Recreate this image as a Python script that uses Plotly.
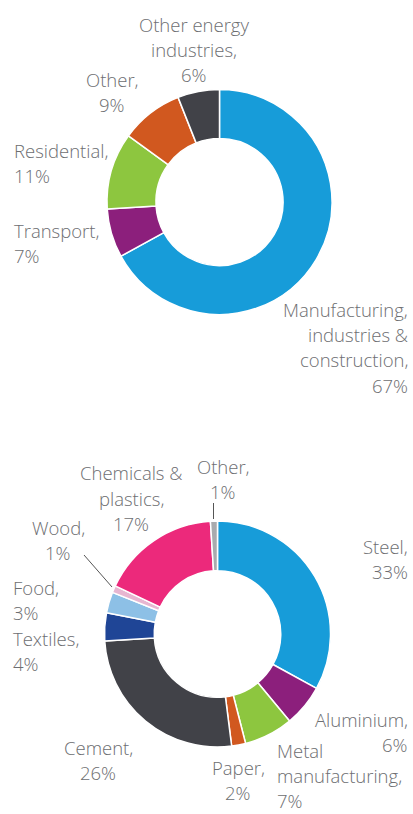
import plotly.graph_objects as go

# Emissions by sector (top ring)
sector_labels = ["Manufacturing,<br>industries &<br>construction", "Transport", "Residential",
                 "Other", "Other energy<br>industries"]
sector_values = [67, 7, 11, 9, 6]
sector_colors = ["#179cd9", "#8c1f7c", "#8dc63f", "#d1581f", "#414248"]

# Breakdown of manufacturing, industries & construction (bottom ring)
industry_labels = ["Steel", "Aluminium", "Metal<br>manufacturing", "Paper", "Cement",
                   "Textiles", "Food", "Wood", "Chemicals &<br>plastics", "Other"]
industry_values = [33, 6, 7, 2, 26, 4, 3, 1, 17, 1]
industry_colors = ["#179cd9", "#8c1f7c", "#8dc63f", "#d1581f", "#414248",
                   "#1f4596", "#8dc0e6", "#e7b6d1", "#ec297b", "#a9abae"]

W, H = 413, 814
TEXT = "#6d6e71"
FONT = "Open Sans"
FS = 18.5


def dom(cx, cy, r):
    return dict(x=[(cx - r) / W, (cx + r) / W], y=[1 - (cy + r) / H, 1 - (cy - r) / H])


fig = go.Figure()
fig.add_trace(go.Pie(
    labels=[l.replace("<br>", " ") for l in sector_labels], values=sector_values,
    marker=dict(colors=sector_colors, line=dict(color="white", width=1.5)),
    hole=0.565, sort=False, direction="clockwise", rotation=0,
    textinfo="none", domain=dom(219.5, 202, 112.5), showlegend=False,
))
fig.add_trace(go.Pie(
    labels=[l.replace("<br>", " ") for l in industry_labels], values=industry_values,
    marker=dict(colors=industry_colors, line=dict(color="white", width=1.5)),
    hole=0.56, sort=False, direction="clockwise", rotation=0,
    textinfo="none", domain=dom(217.5, 634, 113), showlegend=False,
))

# label placement: (x, y of first line, xanchor)
sector_pos = [(410, 309, "right"), (12, 230, "left"), (12, 150, "left"),
              (112, 79, "center"), (194, 24, "center")]
industry_pos = [(410, 546, "right"), (410, 719, "right"), (275, 750, "left"),
                (238, 767, "center"), (98, 747, "center"), (11, 638, "left"),
                (11, 587, "left"), (58, 527, "center"), (131, 473, "center"),
                (223, 466, "center")]

LINE = 25.4
annotations = []


def add_labels(labels, values, positions):
    for lab, val, (x, y, anchor) in zip(labels, values, positions):
        lines = (lab + ",").split("<br>") + [f"{val}%"]
        for i, line in enumerate(lines):
            annotations.append(dict(
                x=x / W, y=1 - (y + i * LINE) / H, xref="paper", yref="paper",
                text=line, showarrow=False, xanchor=anchor, yanchor="middle",
                font=dict(family=FONT, size=FS, color=TEXT, weight=300),
            ))


add_labels(sector_labels, sector_values, sector_pos)
add_labels(industry_labels, industry_values, industry_pos)

# leader lines for the two thinnest slices
shapes = [
    dict(type="line", xref="paper", yref="paper", x0=213.5 / W, x1=213.5 / W,
         y0=1 - 503 / H, y1=1 - 519 / H, line=dict(color="#555", width=1)),
    dict(type="line", xref="paper", yref="paper", x0=84 / W, x1=112 / W,
         y0=1 - 555 / H, y1=1 - 587 / H, line=dict(color="#555", width=1)),
]

fig.update_layout(
    width=W, height=H, margin=dict(l=0, r=0, t=0, b=0),
    paper_bgcolor="white", plot_bgcolor="white",
    annotations=annotations, shapes=shapes,
)
fig.write_html("out.html")
